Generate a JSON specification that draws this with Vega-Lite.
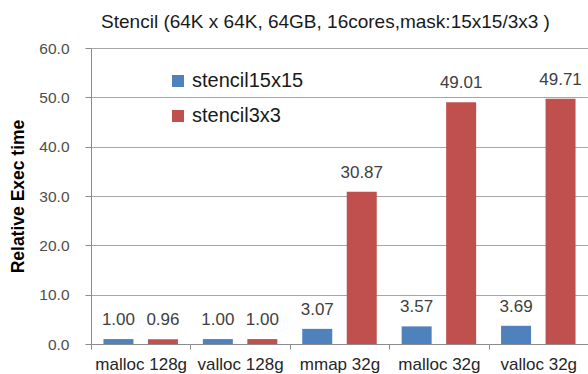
{
  "$schema": "https://vega.github.io/schema/vega-lite/v6.json",
  "width": 497,
  "height": 296,
  "autosize": {"type": "none"},
  "padding": {"left": 91, "top": 48, "right": 0, "bottom": 30},
  "background": "white",
  "title": {
    "text": "Stencil (64K x 64K, 64GB, 16cores,mask:15x15/3x3 )",
    "font": "Liberation Sans",
    "fontSize": 19,
    "fontWeight": "normal",
    "color": "#1a1a1a",
    "anchor": "middle",
    "dx": -14,
    "offset": 9
  },
  "data": {
    "values": [
      {"config": "malloc 128g", "kernel": "stencil15x15", "time": 1.00},
      {"config": "malloc 128g", "kernel": "stencil3x3", "time": 0.96},
      {"config": "valloc 128g", "kernel": "stencil15x15", "time": 1.00},
      {"config": "valloc 128g", "kernel": "stencil3x3", "time": 1.00},
      {"config": "mmap 32g", "kernel": "stencil15x15", "time": 3.07},
      {"config": "mmap 32g", "kernel": "stencil3x3", "time": 30.87},
      {"config": "malloc 32g", "kernel": "stencil15x15", "time": 3.57},
      {"config": "malloc 32g", "kernel": "stencil3x3", "time": 49.01},
      {"config": "valloc 32g", "kernel": "stencil15x15", "time": 3.69},
      {"config": "valloc 32g", "kernel": "stencil3x3", "time": 49.71}
    ]
  },
  "encoding": {
    "x": {
      "field": "config",
      "type": "nominal",
      "sort": null,
      "scale": {"paddingInner": 0, "paddingOuter": 0},
      "axis": {
        "title": null,
        "labelAngle": 0,
        "labelFont": "Liberation Sans",
        "labelFontSize": 17,
        "labelColor": "#262626",
        "labelPadding": 7,
        "tickBand": "extent",
        "tickSize": 5,
        "tickColor": "#8c8c8c",
        "domainColor": "#8c8c8c",
        "grid": false
      }
    },
    "xOffset": {
      "field": "kernel",
      "type": "nominal",
      "scale": {"paddingInner": 0.326, "paddingOuter": 0.28}
    },
    "y": {
      "field": "time",
      "type": "quantitative",
      "scale": {"domain": [0, 60], "nice": false},
      "axis": {
        "title": "Relative Exec time",
        "titleFont": "Liberation Sans",
        "titleFontSize": 17.5,
        "titleFontWeight": "bold",
        "titleColor": "#000000",
        "titleAngle": -90,
        "titleX": -73,
        "titleY": 148,
        "titleAlign": "center",
        "titleBaseline": "middle",
        "values": [0, 10, 20, 30, 40, 50, 60],
        "format": ".1f",
        "labelFont": "Liberation Sans",
        "labelFontSize": 15.5,
        "labelColor": "#4d4d4d",
        "labelPadding": 16,
        "tickSize": 6,
        "tickColor": "#8c8c8c",
        "domainColor": "#8c8c8c",
        "gridColor": "#a6a6a6",
        "gridWidth": 1
      }
    }
  },
  "layer": [
    {
      "mark": {"type": "bar"},
      "encoding": {
        "color": {
          "field": "kernel",
          "type": "nominal",
          "scale": {"domain": ["stencil15x15", "stencil3x3"], "range": ["#4f81bd", "#c0504d"]},
          "legend": {
            "title": null,
            "orient": "none",
            "legendX": 77,
            "legendY": 23,
            "padding": 0,
            "symbolType": "square",
            "symbolSize": 144,
            "symbolStrokeWidth": 0,
            "labelFont": "Liberation Sans",
            "labelFontSize": 20,
            "labelColor": "#1a1a1a",
            "labelOffset": 4,
            "rowPadding": 15
          }
        }
      }
    },
    {
      "mark": {
        "type": "text",
        "baseline": "middle",
        "dy": -19,
        "font": "Liberation Sans",
        "fontSize": 17,
        "color": "#404040"
      },
      "encoding": {
        "text": {"field": "time", "type": "quantitative", "format": ".2f"}
      }
    }
  ],
  "config": {
    "view": {"stroke": null}
  }
}
